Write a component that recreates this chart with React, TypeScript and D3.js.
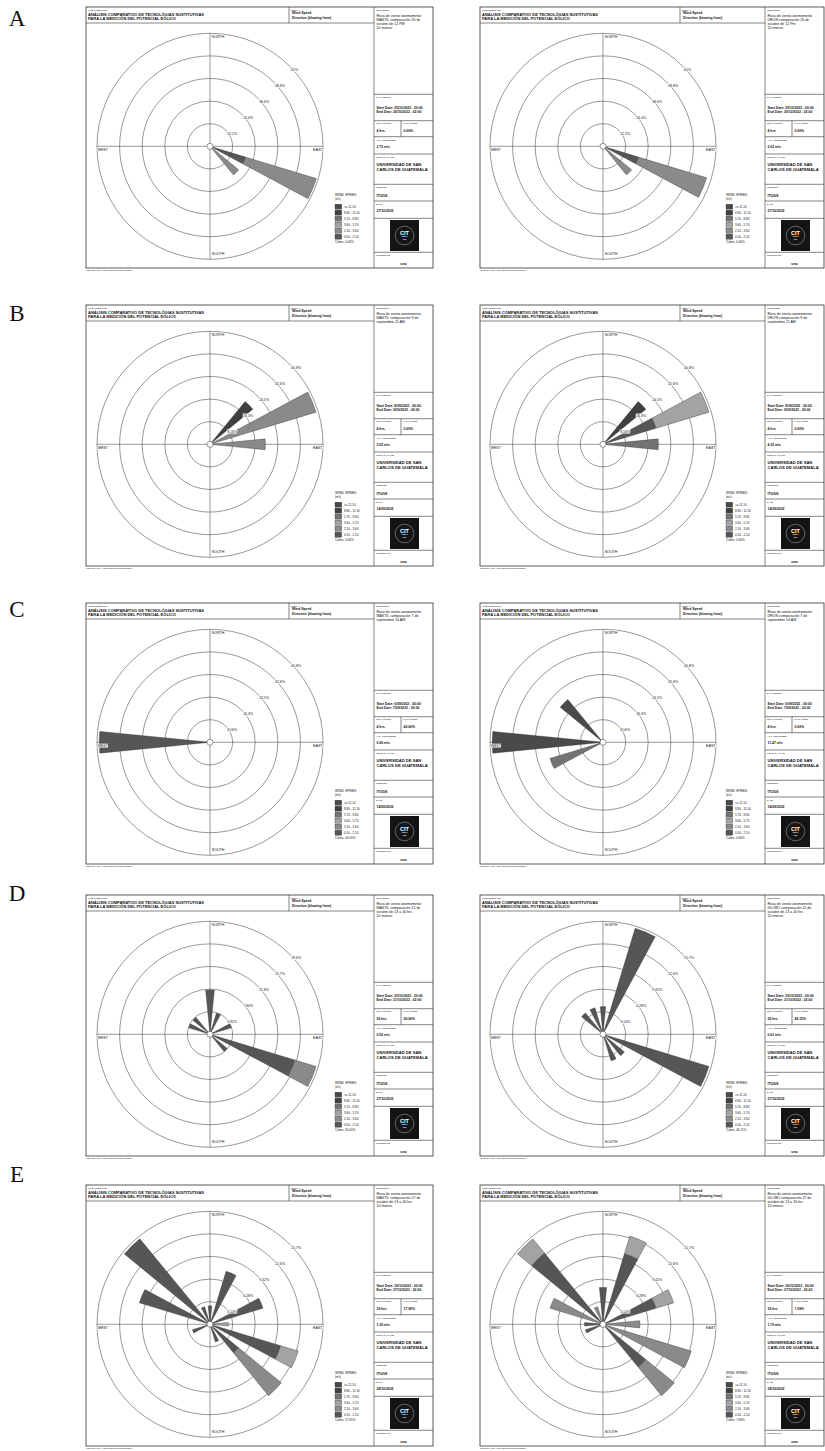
import React from "react";
import * as d3 from "d3";

const W = 825;
const H = 1451;
const FONT = "'Liberation Sans', Arial, Helvetica, sans-serif";

const ROW_LETTERS = ["A", "B", "C", "D", "E"];
const SPEED_CLASSES = [">= 11.10", "8.80 - 11.10", "5.70 - 8.80", "3.60 - 5.70", "2.10 - 3.60", "0.50 - 2.10"];
const CLASS_COLORS = ["#4a4a4a", "#404040", "#737373", "#a3a3a3", "#8a8a8a", "#565656"];
const DIRECTIONS = ["N", "NNE", "NE", "ENE", "E", "ESE", "SE", "SSE", "S", "SSW", "SW", "WSW", "W", "WNW", "NW", "NNW"];
const COMPASS = ["NORTH", "EAST", "SOUTH", "WEST"];

const TITLE_LINES = ["ANÁLISIS COMPARATIVO DE TECNOLÓGIAS SUSTITUTIVAS", "PARA LA MEDICIÓN DEL POTENCIAL EÓLICO"];
const DISPLAY_LINES = ["Wind Speed", "Direction (blowing from)"];

const COMMENTS = [
  ["Rosa de viento anemometro", "MASTIL comparación 26 de", "octubre de 12 PM", "10 metros"],
  ["Rosa de viento anemometro", "DRON comparación 26 de", "octubre de 12 Pm", "10 metros"],
  ["Rosa de viento anemometro", "MASTIL comparación 9 de", "septiembre 11 AM"],
  ["Rosa de viento anemometro", "DRON comparación 9 de", "septiembre 11 AM"],
  ["Rosa de viento anemometro", "MASTIL comparación 7 de", "septiembre 14 AM"],
  ["Rosa de viento anemometro", "DRON comparación 7 de", "septiembre 14 AM"],
  ["Rosa de viento anemometro", "MASTIL comparación 21 de", "octubre de 13 a 16 hrs", "10 metros"],
  ["Rosa de viento anemometro", "GLOBO comparación 21 de", "octubre de 13 a 16 hrs", "10 metros"],
  ["Rosa de viento anemometro", "MASTIL comparación 27 de", "octubre de 13 a 16 hrs", "10 metros"],
  ["Rosa de viento anemometro", "GLOBO comparación 27 de", "octubre de 13 a 16 hrs", "10 metros"],
];
const START_DATES = ["25/10/2022", "25/10/2022", "8/09/2022", "8/09/2022", "6/09/2022", "6/09/2022", "20/10/2022", "20/10/2022", "26/10/2022", "26/10/2022"];
const END_DATES = ["26/10/2022", "26/10/2022", "9/09/2022", "9/09/2022", "7/09/2022", "7/09/2022", "21/10/2022", "21/10/2022", "27/10/2022", "27/10/2022"];
const TOTAL_COUNTS = ["4 hrs.", "4 hrs.", "4 hrs.", "4 hrs.", "4 hrs.", "4 hrs.", "26 hrs.", "26 hrs.", "39 hrs.", "39 hrs."];
const CALM_WINDS = ["0.00%", "0.00%", "0.00%", "0.00%", "40.00%", "0.00%", "50.00%", "46.15%", "17.95%", "7.69%"];
const AVG_SPEEDS = ["2.75 m/s", "2.62 m/s", "2.55 m/s", "4.35 m/s", "0.90 m/s", "11.47 m/s", "0.50 m/s", "0.61 m/s", "1.30 m/s", "1.70 m/s"];
const REPORT_DATES = ["27/10/2022", "27/10/2022", "14/09/2022", "14/09/2022", "14/09/2022", "14/09/2022", "27/10/2022", "27/10/2022", "28/10/2022", "28/10/2022"];

const RING_LABELS = [
  ["12.2%", "24.4%", "36.6%", "48.8%", "61%"],
  ["12.2%", "24.4%", "36.6%", "48.8%", "61%"],
  ["8.16%", "16.3%", "24.5%", "32.6%", "40.8%"],
  ["8.16%", "16.3%", "24.5%", "32.6%", "40.8%"],
  ["8.16%", "16.3%", "24.5%", "32.6%", "40.8%"],
  ["8.16%", "16.3%", "24.5%", "32.6%", "40.8%"],
  ["3.92%", "7.84%", "11.8%", "15.7%", "19.6%"],
  ["3.14%", "6.28%", "9.42%", "12.6%", "15.7%"],
  ["3.14%", "6.28%", "9.42%", "12.6%", "15.7%"],
  ["3.14%", "6.28%", "9.42%", "12.6%", "15.7%"],
];
const RING_MAX = [61, 61, 40.8, 40.8, 40.8, 40.8, 19.6, 15.7, 15.7, 15.7];

// [direction, speed class index, percent] — stacked outward in listed order
const petalsA1: [string, number, number][] = [["ESE", 5, 20], ["ESE", 4, 40], ["SE", 4, 20]];
const petalsA2: [string, number, number][] = [["ESE", 5, 20], ["ESE", 4, 38.5], ["SE", 4, 20]];
const petalsB1: [string, number, number][] = [["ENE", 4, 40], ["NE", 1, 20], ["E", 4, 20]];
const petalsB2: [string, number, number][] = [["ENE", 5, 20], ["ENE", 3, 20], ["NE", 1, 20], ["E", 2, 20]];
const petalsC1: [string, number, number][] = [["W", 5, 40]];
const petalsC2: [string, number, number][] = [["W", 0, 40], ["NW", 0, 20], ["WSW", 2, 20]];
const petalsD1: [string, number, number][] = [
  ["ESE", 5, 15.38], ["ESE", 4, 3.85], ["N", 5, 7.69], ["NNE", 5, 3.85], ["NW", 5, 3.85],
  ["WNW", 5, 3.85], ["ENE", 5, 3.85], ["SE", 5, 3.85],
];
const petalsD2: [string, number, number][] = [
  ["NNE", 5, 15.38], ["ESE", 5, 15.38], ["N", 5, 3.85], ["NNW", 5, 3.85], ["NW", 5, 3.85],
  ["SSE", 5, 3.85], ["SE", 5, 3.85],
];
const petalsE1: [string, number, number][] = [
  ["NW", 5, 15.38], ["WNW", 5, 10.26], ["NNE", 5, 7.69], ["ENE", 5, 7.69], ["E", 3, 2.56],
  ["ESE", 5, 10.26], ["ESE", 3, 2.56], ["SE", 5, 5.13], ["SE", 4, 7.69],
  ["N", 5, 2.56], ["NNW", 5, 2.56], ["WSW", 5, 2.56], ["SSE", 5, 2.56],
];
const petalsE2: [string, number, number][] = [
  ["NW", 5, 12.82], ["NW", 3, 2.56], ["NNE", 5, 10.26], ["NNE", 3, 2.56], ["N", 5, 5.13],
  ["WNW", 4, 7.69], ["NNW", 4, 2.56], ["ENE", 5, 7.69], ["ENE", 3, 2.56], ["E", 4, 5.13],
  ["ESE", 4, 12.82], ["SE", 5, 7.69], ["SE", 4, 5.13], ["W", 5, 2.56], ["WSW", 5, 2.56],
];
const PETALS = [petalsA1, petalsA2, petalsB1, petalsB2, petalsC1, petalsC2, petalsD1, petalsD2, petalsE1, petalsE2];

// layout
const ROW_Y = [7, 305, 603, 895, 1185];
const LETTER_Y = [18, 313, 609, 893, 1174];
const COL_X = [86, 480];
const COL_W = [347, 344];
const CX_OFF = [124, 123];
const PANEL_H = 261;
const INFO_W = 59;

const LINE = "#333";

function T(props: any) {
  const { x, y, s, b, anchor, fill, children } = props;
  return (
    <text x={x} y={y} fontSize={s} fontWeight={b ? "bold" : "normal"} textAnchor={anchor || "start"}
      dominantBaseline="central" fill={fill || "#111"} fontFamily={FONT}>{children}</text>
  );
}

function Panel({ i, x, y, w, cxOff }: any) {
  const h = PANEL_H;
  const mainW = w - INFO_W;
  const infoX = x + mainW;
  const dispX = x + mainW - 85;
  const cx = x + cxOff;
  const cy = y + 139.3;
  const R = 113;
  const rs = d3.scaleLinear().domain([0, RING_MAX[i]]).range([0, R]);
  const ang = d3.scaleLinear().domain([0, DIRECTIONS.length]).range([0, 2 * Math.PI]);
  const hw = Math.PI / 32;
  const arc = d3.arc();
  const acc: Record<string, number> = {};
  const segs = PETALS[i].map(([dir, cls, val]) => {
    const a = ang(DIRECTIONS.indexOf(dir));
    const r0 = acc[dir] || 0;
    const r1 = r0 + val;
    acc[dir] = r1;
    return {
      d: arc({ innerRadius: rs(r0), outerRadius: rs(r1), startAngle: a - hw, endAngle: a + hw } as any) as string,
      fill: CLASS_COLORS[cls],
    };
  });
  const ringVals = d3.range(1, 6).map((k) => (RING_MAX[i] * k) / 5);
  const c45 = Math.SQRT1_2;
  const lg = x + mainW - 39;
  const small = 2.2;

  const compassPos = [
    { t: COMPASS[0], x: cx + 1.7, y: cy - R + 3.4, a: "start" },
    { t: COMPASS[1], x: cx + R - 0.5, y: cy + 3.3, a: "end" },
    { t: COMPASS[2], x: cx + 1.7, y: cy + R - 5.5, a: "start" },
    { t: COMPASS[3], x: cx - R + 0.5, y: cy + 3.3, a: "start" },
  ];

  const infoLines = [87.3, 113.7, 129.7, 147, 177.3, 194, 211.3, 245.3];

  return (
    <g>
      {/* frame */}
      <rect x={x} y={y} width={w} height={h} fill="#fff" stroke={LINE} strokeWidth={0.8} />
      <line x1={x} x2={infoX} y1={y + 16} y2={y + 16} stroke={LINE} strokeWidth={0.6} />
      <line x1={dispX} x2={dispX} y1={y} y2={y + 16} stroke={LINE} strokeWidth={0.6} />
      <line x1={infoX} x2={infoX} y1={y} y2={y + h} stroke={LINE} strokeWidth={0.6} />
      {infoLines.map((ly, k) => (
        <line key={k} x1={infoX} x2={x + w} y1={y + ly} y2={y + ly} stroke={LINE} strokeWidth={0.6} />
      ))}
      <line x1={infoX + 27} x2={infoX + 27} y1={y + 113.7} y2={y + 129.7} stroke={LINE} strokeWidth={0.6} />

      {/* header */}
      <T x={x + 2} y={y + 2.5} s={small}>WIND ROSE PLOT:</T>
      <T x={x + 2} y={y + 7} s={4} b>{TITLE_LINES[0]}</T>
      <T x={x + 2} y={y + 11.5} s={4} b>{TITLE_LINES[1]}</T>
      <T x={dispX + 2} y={y + 2.5} s={small}>DISPLAY:</T>
      <T x={dispX + 3} y={y + 6.4} s={3.4} b>{DISPLAY_LINES[0]}</T>
      <T x={dispX + 3} y={y + 10.8} s={3.4} b>{DISPLAY_LINES[1]}</T>

      {/* info column */}
      <T x={infoX + 2} y={y + 2.5} s={small}>COMMENTS:</T>
      {COMMENTS[i].map((c, k) => (
        <T key={k} x={infoX + 2.5} y={y + 9 + k * 4} s={3.55}>{c}</T>
      ))}
      <T x={infoX + 2} y={y + 90.3} s={small}>DATA PERIOD:</T>
      <T x={infoX + 2.5} y={y + 100.7} s={3.35} b>{`Start Date: ${START_DATES[i]} - 00:00`}</T>
      <T x={infoX + 2.5} y={y + 105.2} s={3.35} b>{`End Date: ${END_DATES[i]} - 02:00`}</T>
      <T x={infoX + 2} y={y + 116} s={small}>TOTAL COUNT:</T>
      <T x={infoX + 29} y={y + 116} s={small}>CALM WINDS:</T>
      <T x={infoX + 2.5} y={y + 124} s={3.4} b>{TOTAL_COUNTS[i]}</T>
      <T x={infoX + 29.5} y={y + 124} s={3.4} b>{CALM_WINDS[i]}</T>
      <T x={infoX + 2} y={y + 132.5} s={small}>AVG. WIND SPEED:</T>
      <T x={infoX + 2.5} y={y + 140.3} s={3.4} b>{AVG_SPEEDS[i]}</T>
      <T x={infoX + 2} y={y + 150} s={small}>COMPANY NAME:</T>
      <T x={infoX + 2.5} y={y + 157.3} s={4.1} b>UNIVERSIDAD DE SAN</T>
      <T x={infoX + 2.5} y={y + 162.5} s={4.1} b>CARLOS DE GUATEMALA</T>
      <T x={infoX + 2} y={y + 180} s={small}>MODELER:</T>
      <T x={infoX + 2.5} y={y + 188.7} s={3.6} b>ITUGS</T>
      <T x={infoX + 2} y={y + 197} s={small}>DATE:</T>
      <T x={infoX + 2.5} y={y + 204.2} s={3.4} b>{REPORT_DATES[i]}</T>
      <rect x={infoX + 16} y={y + 213} width={29} height={31} fill="#141414" />
      <circle cx={infoX + 30.5} cy={y + 228.5} r={9.3} fill="none" stroke="#ddd" strokeWidth={0.4} />
      <T x={infoX + 30.5} y={y + 225.6} s={5.6} b anchor="middle" fill="#fff">CIT</T>
      <T x={infoX + 30.5} y={y + 229.8} s={1.6} b anchor="middle" fill="#fff">VIENTO</T>
      <T x={infoX + 30.5} y={y + 232} s={1.6} b anchor="middle" fill="#fff">SUR</T>
      <T x={infoX + 2} y={y + 248.3} s={small}>PROJECT NO.:</T>
      <T x={infoX + 29.5} y={y + 256.5} s={3.6} b anchor="middle">uno</T>

      {/* rose grid */}
      {ringVals.map((v, k) => (
        <circle key={k} cx={cx} cy={cy} r={rs(v)} fill="none" stroke={LINE} strokeWidth={0.5} />
      ))}
      <line x1={cx - R} x2={cx + R} y1={cy} y2={cy} stroke={LINE} strokeWidth={0.5} />
      <line x1={cx} x2={cx} y1={cy - R} y2={cy + R} stroke={LINE} strokeWidth={0.5} />

      {/* petals */}
      <g transform={`translate(${cx},${cy})`}>
        {segs.map((s, k) => (
          <path key={k} d={s.d} fill={s.fill} stroke="#222" strokeWidth={0.35} />
        ))}
      </g>
      <circle cx={cx} cy={cy} r={3} fill="#fff" stroke={LINE} strokeWidth={0.5} />

      {/* ring labels */}
      {ringVals.map((v, k) => {
        const lx = cx + rs(v) * c45 + 1.2;
        const ly = cy - rs(v) * c45 + 3.2;
        const lab = RING_LABELS[i][k];
        const tw = lab.length * 1.95;
        return (
          <g key={k}>
            <rect x={lx - 0.4} y={ly - 2} width={tw + 0.8} height={4} fill="#fff" />
            <T x={lx} y={ly} s={3.5}>{lab}</T>
          </g>
        );
      })}

      {/* compass labels */}
      {compassPos.map((c, k) => {
        const tw = c.t.length * 2.55;
        const rx = c.a === "end" ? c.x - tw : c.x;
        return (
          <g key={k}>
            <rect x={rx - 0.3} y={c.y - 1.9} width={tw + 0.6} height={3.8} fill="#fff" />
            <T x={c.x} y={c.y} s={3.6} anchor={c.a}>{c.t}</T>
          </g>
        );
      })}

      {/* legend */}
      <T x={lg} y={y + 188} s={3.4}>WIND SPEED</T>
      <T x={lg} y={y + 192.2} s={2.6}>(m/s)</T>
      {SPEED_CLASSES.map((sc, k) => (
        <g key={k}>
          <rect x={lg} y={y + 197.2 + k * 6} width={6.7} height={5} fill={CLASS_COLORS[k]} stroke="#222" strokeWidth={0.3} />
          <T x={lg + 9} y={y + 199.7 + k * 6} s={3}>{sc}</T>
        </g>
      ))}
      <T x={lg} y={y + 235.4} s={3}>{`Calms: ${CALM_WINDS[i]}`}</T>

      {/* footer */}
      <T x={x} y={y + h + 2.3} s={small}>WRPLOT View - Lakes Environmental Software</T>
    </g>
  );
}

export default function App() {
  return (
    <svg width={W} height={H} viewBox={`0 0 ${W} ${H}`} style={{ position: "absolute", left: 0, top: 0, background: "#fff" }}>
      <rect x={0} y={0} width={W} height={H} fill="#fff" />
      {ROW_LETTERS.map((L, r) => (
        <text key={L} x={17} y={LETTER_Y[r]} fontSize={23} fontFamily="'Liberation Serif', 'Times New Roman', serif"
          textAnchor="middle" dominantBaseline="central" fill="#111">{L}</text>
      ))}
      {ROW_LETTERS.map((L, r) =>
        [0, 1].map((c) => (
          <Panel key={`${L}${c}`} i={r * 2 + c} x={COL_X[c]} y={ROW_Y[r]} w={COL_W[c]} cxOff={CX_OFF[c]} />
        ))
      )}
    </svg>
  );
}
